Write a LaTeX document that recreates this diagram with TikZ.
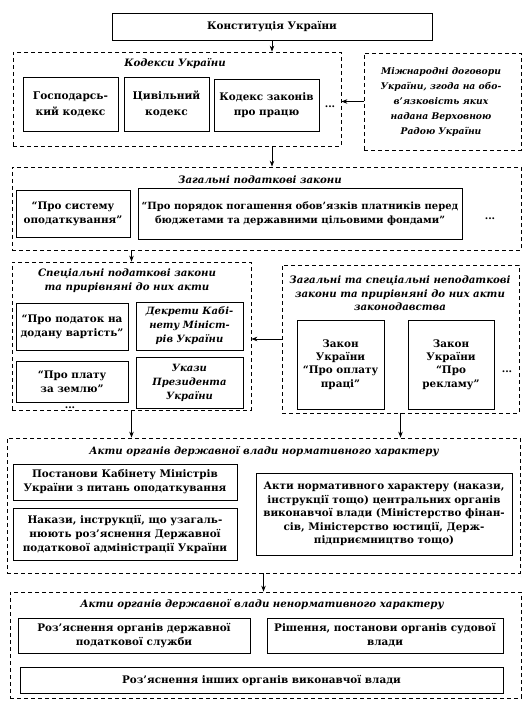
\documentclass[tikz,border=0pt]{standalone}
\usepackage{fontspec}
\setmainfont{DejaVu Serif}
\usetikzlibrary{arrows.meta}
\begin{document}
\begin{tikzpicture}[x=1pt,y=-1pt,
  box/.style={draw, line width=0.8pt, inner sep=0pt, align=center, font=\bfseries\fontsize{10.4}{14}\selectfont},
  ibox/.style={box, font=\bfseries\itshape\fontsize{10}{14}\selectfont},
  dbox/.style={draw, line width=0.7pt, dash pattern=on 4pt off 3pt, inner sep=0pt},
  ttl/.style={inner sep=0pt, align=center, font=\bfseries\itshape\fontsize{10.2}{14}\selectfont},
  dts/.style={inner sep=0pt, font=\bfseries\fontsize{10}{12}\selectfont},
  arr/.style={line width=0.8pt, -{Stealth[length=6pt,width=4.5pt]}}]
\fill[white] (0,0) rectangle (523,708);
\useasboundingbox (0,0) rectangle (523,708);

% Constitution
\node[box, minimum width=320pt, minimum height=27pt] (konst) at (272,26.5) {Конституція України};

% Codes
\node[dbox, minimum width=328pt, minimum height=94pt] (kod) at (177,99) {};
\node[ttl] (tkod) at (175,64) {Кодекси України};
\node[box, minimum width=95pt, minimum height=54pt, font=\bfseries\fontsize{10.6}{16}\selectfont] (k1) at (70.5,104) {Господарсь-\\кий кодекс};
\node[box, minimum width=85pt, minimum height=54pt, font=\bfseries\fontsize{10.6}{16}\selectfont] (k2) at (166.5,104) {Цивільний\\кодекс};
\node[box, minimum width=105pt, minimum height=52pt, font=\bfseries\fontsize{10.4}{15.5}\selectfont] (k3) at (266.5,105) {Кодекс законів\\про працю};
\node[dts] (d1) at (330,107) {...};

\node[dbox, minimum width=157pt, minimum height=97pt] (mizh) at (442.5,101.5) {};
\node[ttl, font=\bfseries\itshape\fontsize{9.2}{15}\selectfont] (tmizh) at (441,102) {Міжнародні договори\\України, згода на обо-\\в’язковість яких\\надана Верховною\\Радою України};

% General tax laws
\node[dbox, minimum width=509pt, minimum height=83pt] (zag) at (266.5,208.5) {};
\node[ttl] (tzag) at (260,180) {Загальні податкові закони};
\node[box, minimum width=114pt, minimum height=47pt] (z1) at (73,213.5) {“Про систему\\оподаткування”};
\node[box, minimum width=324pt, minimum height=51pt, font=\bfseries\fontsize{10}{14}\selectfont] (z2) at (300,213.5) {“Про порядок погашення обов’язків платників перед\\бюджетами та державними цільовими фондами”};
\node[dts] (d2) at (490,219) {...};

% Special tax laws
\node[dbox, minimum width=239pt, minimum height=148pt] (spec) at (131.5,336) {};
\node[ttl] (tspec) at (127,281) {Спеціальні податкові закони\\та прирівняні до них акти};
\node[box, minimum width=112pt, minimum height=47pt] (s1) at (72,326.5) {“Про податок на\\додану вартість”};
\node[ibox, minimum width=107pt, minimum height=48pt] (s2) at (189.5,326) {Декрети Кабі-\\нету Мініст-\\рів України};
\node[box, minimum width=112pt, minimum height=41pt] (s3) at (72,381.5) {“Про плату\\за землю”};
\node[ibox, minimum width=107pt, minimum height=51pt] (s4) at (189.5,382.5) {Укази\\Президента\\України};
\node[dts] (d3) at (70,408) {...};

% Non-tax laws
\node[dbox, minimum width=237pt, minimum height=148pt] (nepod) at (400.5,339) {};
\node[ttl, font=\bfseries\itshape\fontsize{10.2}{13.5}\selectfont] (tnepod) at (400,293.5) {Загальні та спеціальні неподаткові\\закони та прирівняні до них акти\\законодавства};
\node[box, minimum width=87pt, minimum height=89pt, font=\bfseries\fontsize{10.4}{13.2}\selectfont] (n1) at (340.5,364.5) {Закон\\України\\“Про оплату\\праці”};
\node[box, minimum width=86pt, minimum height=89pt, font=\bfseries\fontsize{10.4}{13.2}\selectfont] (n2) at (451,364.5) {Закон\\України\\“Про\\рекламу”};
\node[dts] (d4) at (507,372) {...};

% Normative acts
\node[dbox, minimum width=513pt, minimum height=135pt] (norm) at (263.5,505.5) {};
\node[ttl] (tnorm) at (264,452) {Акти органів державної влади нормативного характеру};
\node[box, minimum width=224pt, minimum height=36pt] (a1) at (125,482) {Постанови Кабінету Міністрів\\України з питань оподаткування};
\node[box, minimum width=224pt, minimum height=52pt] (a2) at (125,534) {Накази, інструкції, що узагаль-\\нюють роз’яснення Державної\\податкової адміністрації України};
\node[box, minimum width=256pt, minimum height=82pt, font=\bfseries\fontsize{10.4}{13.5}\selectfont] (a3) at (384,514) {Акти нормативного характеру (накази,\\інструкції тощо) центральних органів\\виконавчої влади (Міністерство фінан-\\сів, Міністерство юстиції, Держ-\\підприємництво тощо)};

% Non-normative acts
\node[dbox, minimum width=511pt, minimum height=106pt] (nenorm) at (265.5,645) {};
\node[ttl] (tnenorm) at (262,604.5) {Акти органів державної влади ненормативного характеру};
\node[box, minimum width=232pt, minimum height=35pt] (b1) at (134,635.5) {Роз’яснення органів державної\\податкової служби};
\node[box, minimum width=236pt, minimum height=35pt] (b2) at (385,635.5) {Рішення, постанови органів судової\\влади};
\node[box, minimum width=483pt, minimum height=26pt] (b3) at (261.5,680) {Роз’яснення інших органів виконавчої влади};

% Connectors
\draw[arr] (konst.south) -- (konst.south |- kod.north);
\draw[arr] (mizh.west) -- (mizh.west -| kod.east);
\draw[arr] (kod.south -| konst.south) -- (zag.north -| konst.south);
\draw[arr] (spec.north |- zag.south) -- (spec.north);
\draw[arr] (nepod.west) -- (nepod.west -| spec.east);
\draw[arr] (spec.south) -- (spec.south |- norm.north);
\draw[arr] (nepod.south) -- (nepod.south |- norm.north);
\draw[arr] (norm.south) -- (norm.south |- nenorm.north);
\end{tikzpicture}
\end{document}
